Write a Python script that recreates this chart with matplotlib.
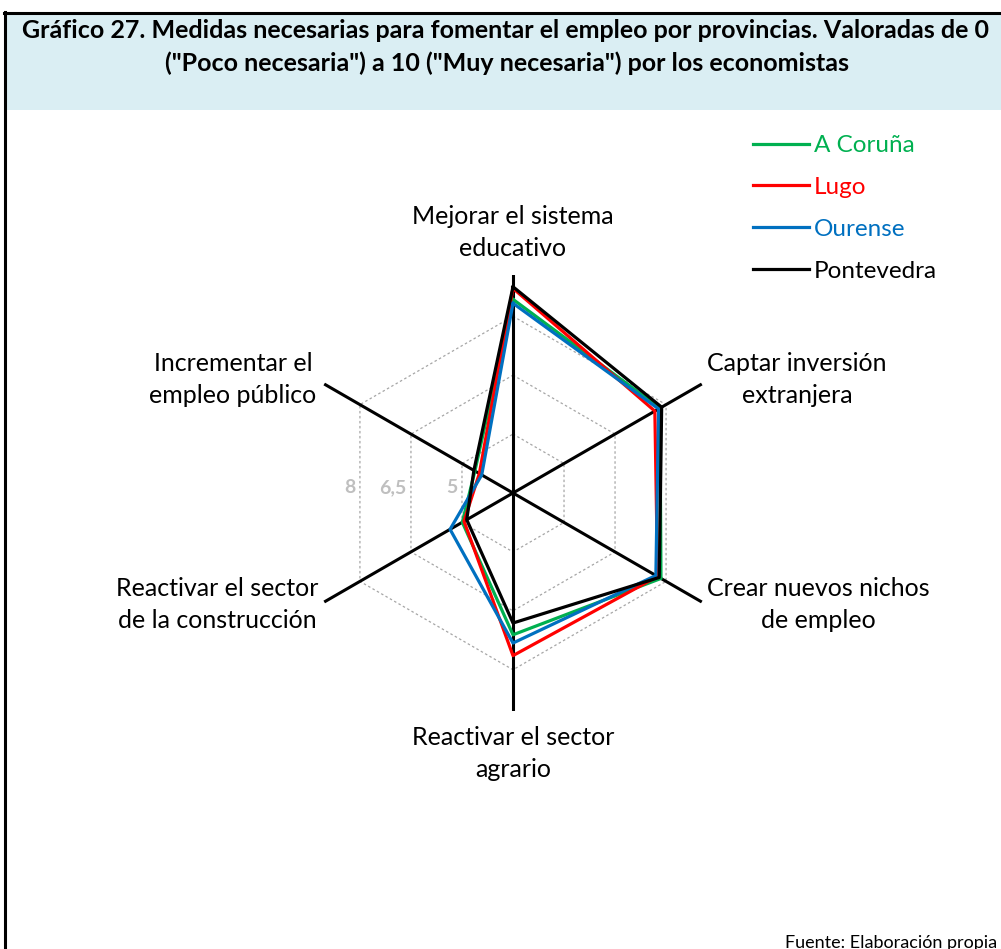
import numpy as np
import matplotlib
matplotlib.use("Agg")
import matplotlib.pyplot as plt
from matplotlib.lines import Line2D
from matplotlib.patches import Rectangle

plt.rcParams['font.family'] = ['Lato', 'DejaVu Sans']

# Datos (valoraciones medias por provincia)
categorias = ["Mejorar el sistema\neducativo",
              "Captar inversión\nextranjera",
              "Crear nuevos nichos\nde empleo",
              "Reactivar el sector\nagrario",
              "Reactivar el sector\nde la construcción",
              "Incrementar el\nempleo público"]
provincias = ["A Coruña", "Lugo", "Ourense", "Pontevedra"]
a_coruna = [8.43, 7.82, 7.85, 7.11, 4.99, 4.62]
lugo = [8.71, 7.67, 7.75, 7.64, 4.94, 4.49]
ourense = [8.33, 7.78, 7.70, 7.32, 5.35, 4.42]
pontevedra = [8.75, 7.87, 7.80, 6.81, 4.86, 4.65]
niveles = [5, 6.5, 8]
etiquetas_niveles = ["5", "6,5", "8"]
r_min, r_max = 3.5, 9.05

colores = ["#00B050", "#FF0000", "#0070C0", "#000000"]
series = [a_coruna, lugo, ourense, pontevedra]

W, H = 1001, 949
fig = plt.figure(figsize=(W / 100, H / 100), dpi=100)

# caja del título
fig.patches.append(Rectangle((5 / W, 1 - 110 / H), 1 - 5 / W, 97 / H,
                             transform=fig.transFigure, facecolor="#DAEEF3",
                             edgecolor="none", zorder=0))
fig.add_artist(Line2D([4 / W, 1], [1 - 12.5 / H] * 2, color="black", lw=2.2))
fig.add_artist(Line2D([5 / W] * 2, [0, 1 - 12 / H], color="black", lw=2.2))

fig.text(506 / W, 1 - 31 / H,
         "Gráfico 27. Medidas necesarias para fomentar el empleo por provincias. Valoradas de 0",
         ha="center", va="center", fontsize=18, fontweight="bold")
fig.text(507 / W, 1 - 63 / H,
         "(\"Poco necesaria\") a 10 (\"Muy necesaria\") por los economistas",
         ha="center", va="center", fontsize=18, fontweight="bold")

# radar
cx, cy, R = 513, 493, 218
ax = fig.add_axes([(cx - R) / W, (H - cy - R) / H, 2 * R / W, 2 * R / H],
                  projection="polar")
ax.set_theta_zero_location("N")
ax.set_theta_direction(-1)
ax.set_ylim(r_min, r_max)
ax.set_axis_off()

angulos = np.linspace(0, 2 * np.pi, len(categorias), endpoint=False)
cerrado = np.append(angulos, angulos[0])

for n in niveles:
    ax.plot(cerrado, [n] * len(cerrado), color="#A6A6A6", lw=0.9,
            linestyle=(0, (2, 2)), zorder=1)

for a in angulos:
    ax.plot([a, a], [r_min, r_max], color="black", lw=2.2, zorder=2)

for vals, col, nombre in zip(series, colores, provincias):
    v = list(vals) + [vals[0]]
    ax.plot(cerrado, v, color=col, lw=2.3, label=nombre, zorder=3)

# etiquetas de escala
for n, t in zip(niveles, etiquetas_niveles):
    r_borde = r_min + (n - r_min) * np.cos(np.pi / 6)
    ax.annotate(t, xy=(3 * np.pi / 2, r_borde), xytext=(-3, 4),
                textcoords="offset points", ha="right", va="center",
                fontsize=14, fontweight="bold", color="#BFBFBF")

# etiquetas de categorías
pos = [(513, 232.5), (797, 379.5), (818, 604.5),
       (513, 753.5), (217, 604.5), (233, 379.5)]
for txt, (x, y) in zip(categorias, pos):
    fig.text(x / W, 1 - y / H, txt, ha="center", va="center",
             multialignment="center", fontsize=18, linespacing=1.47)

# leyenda
fig.legend(loc="upper left", bbox_to_anchor=(753 / W, 1 - 135 / H),
           frameon=False, fontsize=17.5, labelcolor="linecolor",
           handlelength=2.3, handletextpad=0.2, labelspacing=0.86,
           borderpad=0, borderaxespad=0)

fig.text(785 / W, 1 - 943 / H, "Fuente: Elaboración propia",
         ha="left", va="center", fontsize=13)

fig.savefig("out.png", dpi=100)
